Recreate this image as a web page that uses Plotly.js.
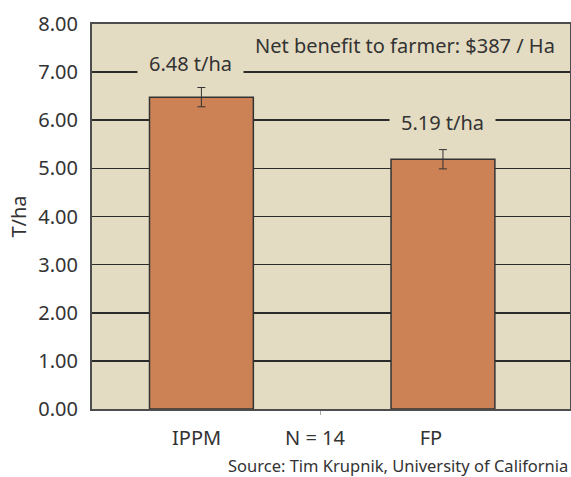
<!DOCTYPE html>
<html>
<head>
<meta charset="utf-8">
<script src="https://cdn.plot.ly/plotly-3.0.1.min.js"></script>
<style>html,body{margin:0;padding:0;background:#fff;}#chart{width:571px;height:477px;}</style>
</head>
<body>
<div id="chart"></div>
<script>
// Data
const categories = ['IPPM', 'FP'];
const yields = [6.48, 5.19];          // t/ha
const errors = [0.20, 0.20];          // error bar half-lengths
const yTickVals = [0, 1, 2, 3, 4, 5, 6, 7, 8];
const xLabels = ['IPPM', 'N = 14', 'FP'];
const netBenefitText = 'Net benefit to farmer: $387 / Ha';
const sourceText = 'Source: Tim Krupnik, University of California';

// Layout helpers (positions only)
const barPos = [0, 1];
const xLabelPos = [-0.02, 0.47, 0.95];
const labelPos = [{x: -0.045, y: 7.19}, {x: 1.0, y: 5.96}];

const BG = '#E4DCC2';
const TXT = '#333333';
const FONT = 'Noto Sans, sans-serif';

const trace = {
  type: 'bar',
  x: barPos,
  y: yields,
  width: 0.43,
  marker: {color: '#CC8254', line: {color: '#333333', width: 1.5}},
  error_y: {type: 'data', array: errors, visible: true, color: '#333333', thickness: 1, width: 4},
  hoverinfo: 'skip'
};

const annotations = yields.map((v, i) => ({
  x: labelPos[i].x, y: labelPos[i].y, xref: 'x', yref: 'y',
  text: v.toFixed(2) + ' t/ha', showarrow: false,
  font: {family: FONT, size: 20, color: TXT},
  bgcolor: BG, width: 105, height: 24, borderpad: 0,
  xanchor: 'center', yanchor: 'middle'
}));
annotations.push({
  x: 0.843, y: 7.56, xref: 'x', yref: 'y', text: netBenefitText, showarrow: false,
  font: {family: FONT, size: 20, color: TXT}, xanchor: 'center', yanchor: 'middle'
});
annotations.push({
  x: 1, y: -0.148, xref: 'paper', yref: 'paper', text: sourceText, showarrow: false,
  font: {family: FONT, size: 16.5, color: TXT}, xanchor: 'right', yanchor: 'middle'
});

const layout = {
  width: 571, height: 477,
  margin: {l: 92, r: 1, t: 24, b: 68, pad: 0},
  paper_bgcolor: '#ffffff',
  plot_bgcolor: BG,
  showlegend: false,
  font: {family: FONT, color: TXT},
  xaxis: {
    range: [-0.453, 1.526],
    tickvals: xLabelPos, ticktext: xLabels,
    ticks: '', showgrid: false, zeroline: false,
    tickfont: {family: FONT, size: 20, color: TXT},
    ticklabelstandoff: 10,
    minor: {tickvals: [0.495], ticks: 'outside', ticklen: 4, tickcolor: '#aaaaaa', showgrid: false},
    showline: true, linecolor: '#4d4d4d', linewidth: 2, mirror: true,
    fixedrange: true
  },
  yaxis: {
    range: [0, 8], tickvals: yTickVals, tickformat: '.2f',
    showgrid: true, gridcolor: '#2b2b2b', gridwidth: 1.6,
    zeroline: false, ticks: '',
    tickfont: {family: FONT, size: 20, color: TXT},
    ticklabelstandoff: 8,
    showline: true, linecolor: '#4d4d4d', linewidth: 2, mirror: true,
    title: {text: 'T/ha', font: {family: FONT, size: 20, color: TXT}, standoff: 6},
    fixedrange: true
  },
  annotations: annotations
};

Plotly.newPlot('chart', [trace], layout, {displayModeBar: false, staticPlot: true});
</script>
</body>
</html>
